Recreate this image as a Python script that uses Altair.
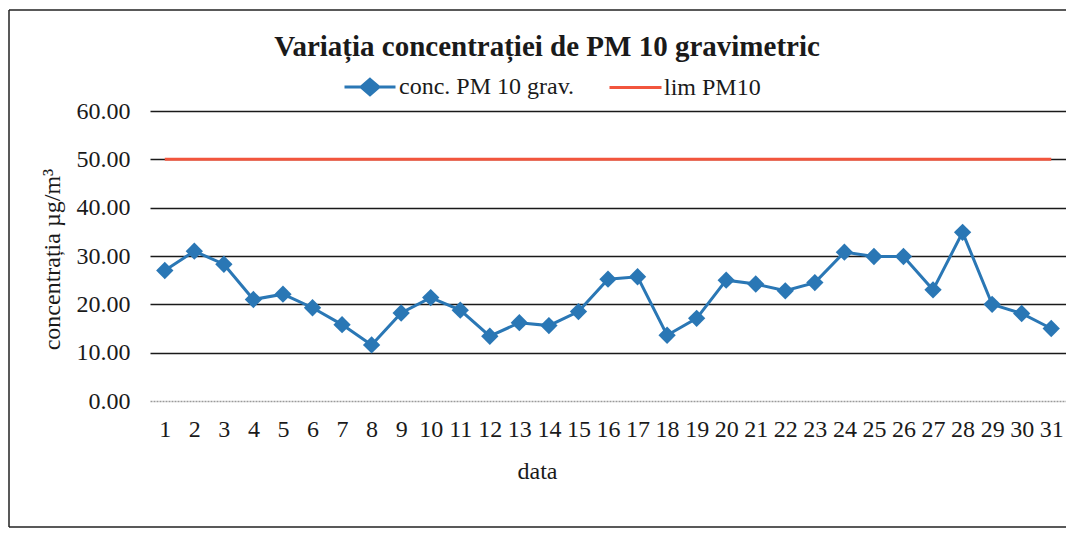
import altair as alt
import pandas as pd

# ---- data ----
days = list(range(1, 32))
conc_values = [27.0, 31.0, 28.3, 21.0, 22.1, 19.3, 15.8, 11.6, 18.2, 21.4,
               18.8, 13.4, 16.2, 15.6, 18.5, 25.2, 25.7, 13.6, 17.1, 25.0,
               24.2, 22.8, 24.5, 30.8, 29.9, 29.9, 23.0, 34.9, 20.0, 18.1, 15.0]
limit_values = [50.0] * 31
series_names = ["conc. PM 10 grav.", "lim PM10"]
y_ticks = [0, 10, 20, 30, 40, 50, 60]

title_text = "Variația concentrației de PM 10 gravimetric"
x_title = "data"
y_title = "concentrația µg/m³"

BLUE = "#2a77b5"
RED = "#f2553d"
FONT = "Liberation Serif"
TXT = "#1a1a1a"

df_conc = pd.DataFrame({"day": days, "value": conc_values, "series": series_names[0]})
df_lim = pd.DataFrame({"day": days, "value": limit_values, "series": series_names[1]})
df_one = pd.DataFrame({"k": [0]})

x_enc = alt.X(
    "day:O",
    scale=alt.Scale(type="point", padding=0.5),
    axis=alt.Axis(
        title=x_title, labelAngle=0, labelFont=FONT, labelFontSize=24, labelColor=TXT,
        labelPadding=16, labelOverlap=False, labelFlush=False,
        ticks=False, tickSize=0, grid=False,
        domain=True, domainColor="#9a9a9a", domainDash=[2, 1], domainWidth=1.3,
        titleFont=FONT, titleFontSize=24, titleFontWeight="normal", titleColor=TXT,
        titleX=387, titleY=77, titleBaseline="alphabetic", titleAnchor="start", titleAlign="center",
    ),
)
y_enc = alt.Y(
    "value:Q",
    scale=alt.Scale(domain=[0, 60], nice=False),
    axis=alt.Axis(
        title=y_title, values=y_ticks, format=".2f",
        labelFont=FONT, labelFontSize=24, labelColor=TXT, labelPadding=20,
        ticks=False, tickSize=0, domain=False,
        grid=True, gridColor="#1a1a1a", gridWidth=1.4,
        gridOpacity={"condition": {"test": "datum.value === 0", "value": 0}, "value": 1},
        titleFont=FONT, titleFontSize=24, titleFontWeight="normal", titleColor=TXT,
        titleX=-91, titleY=148, titleBaseline="alphabetic", titleAngle=-90,
        titleAnchor="start", titleAlign="center",
    ),
)

color_scale = alt.Scale(domain=[series_names[0]], range=[BLUE])
blue_legend = alt.Legend(
    title=None, orient="none", legendX=193, legendY=-51, padding=0,
    symbolType="M-1,0L1,0M0,-0.3L0.35,0L0,0.3L-0.35,0Z",
    symbolSize=2601, symbolStrokeWidth=3, symbolStrokeColor=BLUE, symbolFillColor=BLUE,
    labelFont=FONT, labelFontSize=24, labelColor=TXT, labelOffset=2, labelLimit=0,
)
red_legend = alt.Legend(
    title=None, orient="none", legendX=458, legendY=-51, padding=0,
    symbolType="stroke", symbolSize=2704, symbolStrokeWidth=3,
    labelFont=FONT, labelFontSize=24, labelColor=TXT, labelOffset=1, labelLimit=0,
)

# chart-area frame (left, top and bottom edges; the right edge lies outside the picture)
frame_left = alt.Chart(df_one).mark_rule(color="#222", strokeWidth=1.5).encode(
    x=alt.value(-141), y=alt.value(-101), y2=alt.value(416)
)
frame_top = alt.Chart(df_one).mark_rule(color="#222", strokeWidth=1.5).encode(
    x=alt.value(-141), x2=alt.value(916), y=alt.value(-101)
)
frame_bottom = alt.Chart(df_one).mark_rule(color="#222", strokeWidth=1.5).encode(
    x=alt.value(-141), x2=alt.value(916), y=alt.value(416)
)
title = alt.Chart(df_one).mark_text(
    font=FONT, fontSize=29, fontWeight="bold", color=TXT, align="center", baseline="alphabetic"
).encode(x=alt.value(397), y=alt.value(-55), text=alt.value(title_text))

conc_line = alt.Chart(df_conc).mark_line(strokeWidth=3).encode(
    x=x_enc, y=y_enc, color=alt.Color("series:N", scale=color_scale, legend=blue_legend)
)
conc_pts = alt.Chart(df_conc).mark_point(shape="diamond", filled=True, size=300, opacity=1).encode(
    x=x_enc, y=y_enc, color=alt.Color("series:N", scale=color_scale, legend=blue_legend)
)
lim_line = alt.Chart(df_lim).mark_line(strokeWidth=3).encode(
    x=x_enc, y=y_enc,
    stroke=alt.Stroke("series:N", scale=alt.Scale(domain=[series_names[1]], range=[RED]), legend=red_legend),
)

chart = alt.layer(frame_left, frame_top, frame_bottom, title, lim_line, conc_line, conc_pts).properties(
    width=916, height=290,
    autosize=alt.AutoSizeParams(type="none"),
    padding={"left": 142, "top": 103, "right": 0, "bottom": 127},
    background="white",
).configure_view(stroke=None)

chart.save("out.html", embed_options={"renderer": "svg", "actions": False})
